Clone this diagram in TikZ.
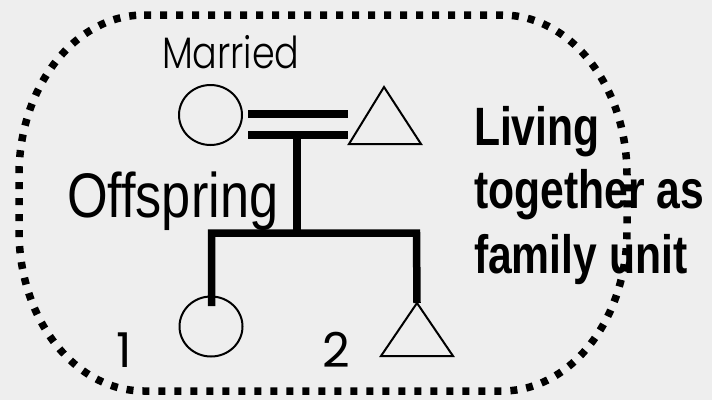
\documentclass[tikz,border=0pt]{standalone}
\usepackage{fontspec}
\usetikzlibrary{shapes.geometric}
\setmainfont{Liberation Sans}
\newfontfamily\thinfont{Poppins}[UprightFont=* Light]
\newfontfamily\digitfont{Poppins}
\definecolor{bgc}{RGB}{238,238,238}
\tikzset{
  thinline/.style={line width=2pt, draw=black},
  thickline/.style={line width=7.5pt, draw=black, line join=miter},
  border/.style={line width=7.5pt, dash pattern=on 7pt off 9pt, draw=black},
  person/.style={ellipse, thinline, minimum width=63pt, minimum height=60pt, inner sep=0pt},
  txt/.style={anchor=base west, inner sep=0pt, outer sep=0pt}
}
\begin{document}
\begin{tikzpicture}[x=1pt,y=-1pt]
\fill[bgc] (0,0) rectangle (712,400);
\useasboundingbox (0,0) rectangle (712,400);

% persons
\node[person] (mother) at (210.5,115) {};
\coordinate (fapex) at (384,87);
\draw[thinline] (fapex) -- ++(37,57) -- ++(-72,0) -- cycle;
\node[person] (child1) at (211,326.5) {};
\coordinate (capex) at (417,303);
\draw[thinline] (capex) -- ++(36,53) -- ++(-72,0) -- cycle;

% marriage and sibship lines
\coordinate (m1a) at (248,114);
\coordinate (m1b) at (348,114);
\coordinate (m2a) at (248,135);
\coordinate (m2b) at (348,135);
\draw[thickline] (m1a) -- (m1b);
\draw[thickline] (m2a) -- (m2b);
\coordinate (drop) at (297,135);
\coordinate (sibl) at (211.5,233);
\coordinate (sibr) at (416.5,233);
\draw[thickline] (drop) -- (drop |- sibl);
\draw[thickline] (211.5,306) |- (sibr) -- (capex);

% texts
\node[txt] (married) at (162,68) {\thinfont\fontsize{44}{44}\selectfont\scalebox{0.83}[1]{Married}};
\node[txt] (offspring) at (67,217) {\fontsize{63}{63}\selectfont\scalebox{0.83}[1]{Offspring}};
\node[txt] (one) at (116,367) {\digitfont\fontsize{48}{48}\selectfont 1};
\node[txt] (two) at (322,367) {\digitfont\fontsize{48}{48}\selectfont 2};
\node[txt] (liv1) at (474,145) {\bfseries\fontsize{54}{54}\selectfont\scalebox{0.79}[1]{Living}};
\node[txt] (liv2) at (474,208) {\bfseries\fontsize{54}{54}\selectfont\scalebox{0.79}[1]{together as}};
\node[txt] (liv3) at (474,273) {\bfseries\fontsize{54}{54}\selectfont\scalebox{0.79}[1]{family unit}};

% dotted household boundary
\draw[border] (144,15) -- (502,15)
  arc[start angle=-90, end angle=0, x radius=125, y radius=160]
  -- (627,231)
  arc[start angle=0, end angle=90, x radius=125, y radius=160]
  -- (144,391)
  arc[start angle=90, end angle=180, x radius=125, y radius=160]
  -- (19,175)
  arc[start angle=180, end angle=270, x radius=125, y radius=160]
  -- cycle;
\end{tikzpicture}
\end{document}
